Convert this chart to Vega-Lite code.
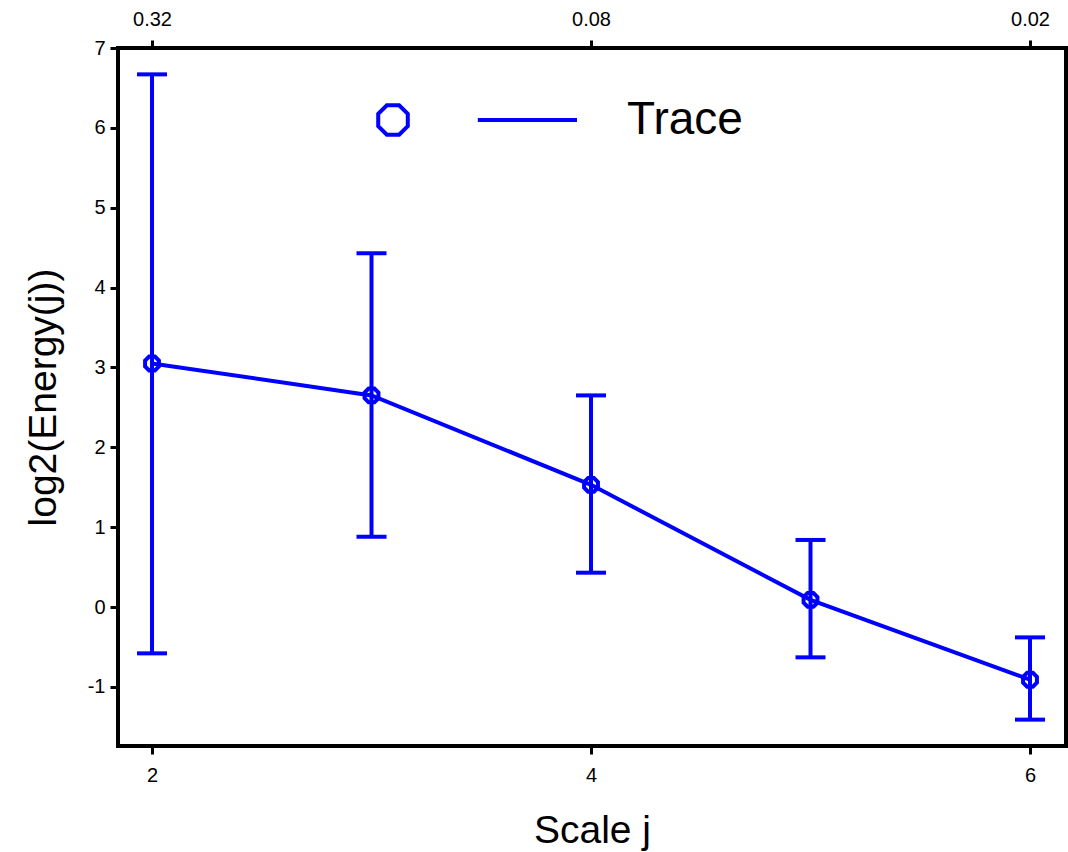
{
  "$schema": "https://vega.github.io/schema/vega-lite/v6.json",
  "width": 948,
  "height": 698,
  "autosize": {"type": "none"},
  "padding": {"left": 118, "top": 48, "right": 2, "bottom": 106},
  "background": "white",
  "config": {
    "font": "Liberation Sans",
    "view": {"stroke": "black", "strokeWidth": 4},
    "axis": {
      "domain": false,
      "grid": false,
      "tickColor": "black",
      "tickWidth": 3,
      "tickSize": 8,
      "labelFont": "Liberation Sans",
      "labelFontSize": 20,
      "labelColor": "black",
      "titleFont": "Liberation Sans",
      "titleFontSize": 39,
      "titleFontWeight": "normal",
      "titleColor": "black"
    }
  },
  "data": {
    "values": [
      {"j": 2, "energy": 3.05, "lo": -0.58, "hi": 6.67},
      {"j": 3, "energy": 2.65, "lo": 0.88, "hi": 4.43},
      {"j": 4, "energy": 1.53, "lo": 0.43, "hi": 2.65},
      {"j": 5, "energy": 0.09, "lo": -0.63, "hi": 0.84},
      {"j": 6, "energy": -0.91, "lo": -1.41, "hi": -0.38}
    ]
  },
  "resolve": {"axis": {"x": "independent", "y": "independent"}},
  "layer": [
    {
      "mark": {"type": "rule", "color": "#0000ff", "strokeWidth": 4, "opacity": 1},
      "encoding": {
        "x": {"field": "j", "type": "quantitative", "scale": {"domain": [1.845, 6.164], "nice": false, "zero": false},
              "axis": {"orient": "bottom", "values": [2, 4, 6], "title": "Scale j", "titlePadding": 26, "labelPadding": 11, "labelFontSize": 20}},
        "y": {"field": "lo", "type": "quantitative", "scale": {"domain": [-1.74, 7], "nice": false, "zero": false},
              "axis": {"orient": "left", "values": [-1, 0, 1, 2, 3, 4, 5, 6, 7], "title": "log2(Energy(j))", "titlePadding": 24, "labelPadding": 5, "labelFontSize": 20,
                       "labelExpr": "datum.value < 0 ? '-' + abs(datum.value) : datum.label"}},
        "y2": {"field": "hi"}
      }
    },
    {
      "mark": {"type": "tick", "orient": "horizontal", "color": "#0000ff", "size": 30, "thickness": 4, "opacity": 1},
      "encoding": {
        "x": {"field": "j", "type": "quantitative", "axis": null},
        "y": {"field": "lo", "type": "quantitative", "axis": null}
      }
    },
    {
      "mark": {"type": "tick", "orient": "horizontal", "color": "#0000ff", "size": 30, "thickness": 4, "opacity": 1},
      "encoding": {
        "x": {"field": "j", "type": "quantitative", "axis": null},
        "y": {"field": "hi", "type": "quantitative", "axis": null}
      }
    },
    {
      "mark": {"type": "line", "color": "#0000ff", "strokeWidth": 4},
      "encoding": {
        "x": {"field": "j", "type": "quantitative",
              "axis": {"orient": "top", "values": [2, 4, 6], "title": null, "labelPadding": 11, "labelFontSize": 20, "labelExpr": "format(1.28 / pow(2, datum.value), '.2f')"}},
        "y": {"field": "energy", "type": "quantitative", "axis": null}
      }
    },
    {
      "mark": {"type": "point", "filled": false, "strokeWidth": 4, "size": 225, "opacity": 1,
               "shape": "M0.924,0.383L0.383,0.924L-0.383,0.924L-0.924,0.383L-0.924,-0.383L-0.383,-0.924L0.383,-0.924L0.924,-0.383Z"},
      "encoding": {
        "x": {"field": "j", "type": "quantitative", "axis": null},
        "y": {"field": "energy", "type": "quantitative", "axis": null},
        "color": {"datum": "Trace", "type": "nominal", "scale": {"range": ["#0000ff"]},
                  "legend": {"title": null, "orient": "none", "legendX": 252, "legendY": 49,
                             "symbolType": "M0.924,0.383L0.383,0.924L-0.383,0.924L-0.924,0.383L-0.924,-0.383L-0.383,-0.924L0.383,-0.924L0.924,-0.383Z M5.3,0L11.5,0",
                             "symbolSize": 1024, "symbolStrokeWidth": 4, "symbolFillColor": "transparent",
                             "labelFontSize": 46, "labelFont": "Liberation Sans", "labelColor": "black",
                             "labelOffset": 211, "labelLimit": 0, "padding": 0}}
      }
    }
  ]
}
